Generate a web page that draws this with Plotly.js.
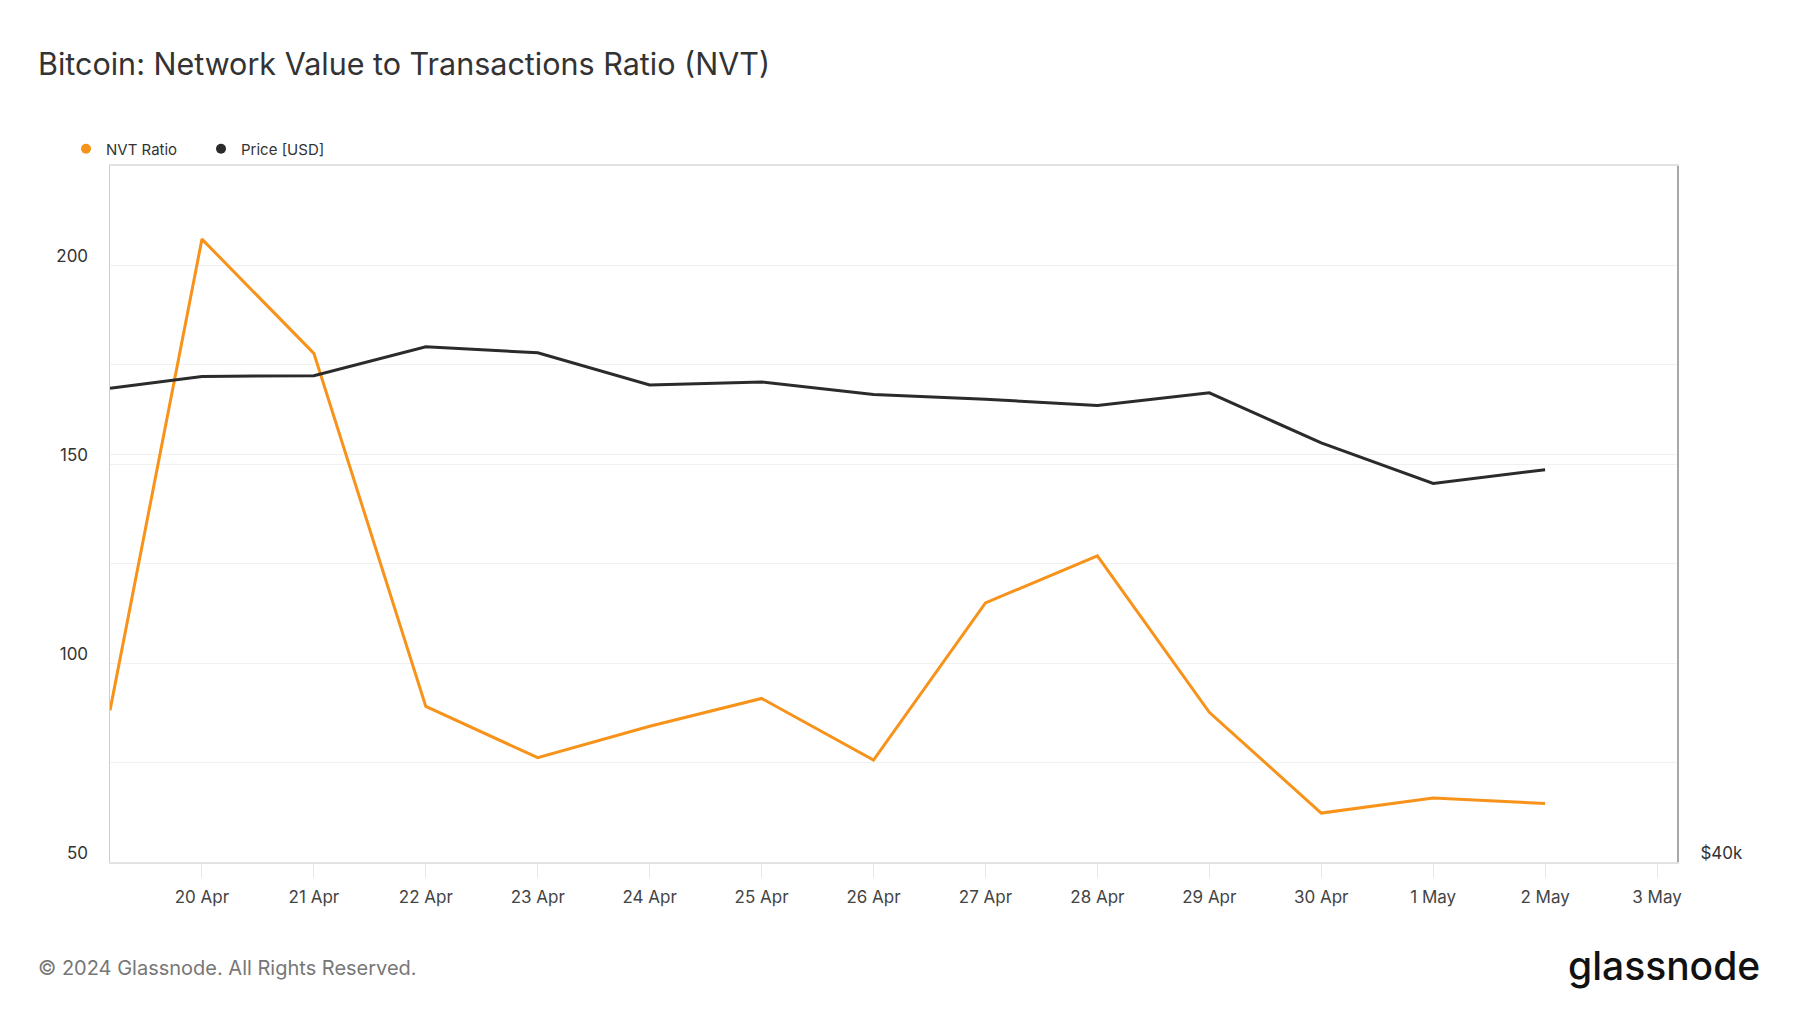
<!DOCTYPE html>
<html>
<head>
<meta charset="utf-8">
<script src="https://cdn.plot.ly/plotly-3.0.1.min.js"></script>
<style>
  html, body { margin: 0; padding: 0; background: #fff; }
  #chart { width: 1800px; height: 1013px; }
</style>
</head>
<body>
<div id="chart"></div>
<script>
// Dates (first point is where the lines enter the visible window)
const dates = [
  '2024-04-19 04:17', '2024-04-20', '2024-04-21', '2024-04-22', '2024-04-23',
  '2024-04-24', '2024-04-25', '2024-04-26', '2024-04-27', '2024-04-28',
  '2024-04-29', '2024-04-30', '2024-05-01', '2024-05-02'
];
// NVT Ratio (left axis)
const nvtRatio = [88.1, 206.5, 177.8, 89.1, 76.2, 84.1, 91.1, 75.6, 115.1, 126.9, 87.6, 62.3, 66.1, 64.7];
// Price [USD] (right axis, log scale)
const priceUsd = [64100, 64850, 64900, 66800, 66400, 64300, 64500, 63700, 63400, 63000, 63800, 60700, 58300, 59100];

const xRange = ['2024-04-19 04:17', '2024-05-03 04:17'];
const leftTickVals = [50, 75, 100, 125, 150, 175, 200, 225];
const leftTickText = ['50', '', '100', '', '150', '', '200', ''];
const rightTickVals = [40000, 60000];
const rightTickText = ['$40k', ''];

const ORANGE = '#f7931a';
const DARK = '#2b2b2b';
const FONT = 'Inter, "Noto Sans", sans-serif';

const traces = [
  {
    x: dates, y: nvtRatio, type: 'scatter', mode: 'lines',
    line: { color: ORANGE, width: 3 }, yaxis: 'y', showlegend: false,
    name: 'NVT Ratio', hoverinfo: 'skip'
  },
  {
    x: dates, y: priceUsd, type: 'scatter', mode: 'lines',
    line: { color: DARK, width: 3 }, yaxis: 'y2', showlegend: false,
    name: 'Price [USD]', hoverinfo: 'skip'
  },
  {
    x: [null], y: [null], type: 'scatter', mode: 'markers',
    marker: { color: ORANGE, size: 10 }, name: 'NVT Ratio', showlegend: true
  },
  {
    x: [null], y: [null], type: 'scatter', mode: 'markers',
    marker: { color: DARK, size: 10 }, name: 'Price [USD]', showlegend: true
  }
];

const plotW = 1800 - 110 - 123;
const plotH = 1013 - 164 - 151;

const layout = {
  width: 1800, height: 1013,
  paper_bgcolor: '#ffffff', plot_bgcolor: '#ffffff',
  margin: { l: 110, r: 123, t: 164, b: 151, pad: 0 },
  font: { family: FONT, color: '#333' },
  title: {
    text: 'Bitcoin: Network Value to Transactions Ratio (NVT)',
    font: { family: FONT, size: 30.5, color: '#333333' },
    xref: 'container', yref: 'container',
    x: 38 / 1800, xanchor: 'left',
    y: 1 - 64 / 1013, yanchor: 'middle'
  },
  showlegend: true,
  legend: {
    orientation: 'h',
    xref: 'container', yref: 'container',
    x: 66 / 1800, xanchor: 'left',
    y: 1 - 149 / 1013, yanchor: 'middle',
    font: { family: FONT, size: 15, color: '#333' },
    itemwidth: 30,
    entrywidth: 90,
    bgcolor: 'rgba(0,0,0,0)'
  },
  xaxis: {
    type: 'date',
    range: xRange,
    tick0: '2024-04-20', dtick: 86400000,
    tickformat: '%-d %b',
    showgrid: false, zeroline: false,
    showline: true, linecolor: '#e2e2e2', linewidth: 1.5, mirror: true,
    ticks: 'outside', ticklen: 14, tickcolor: '#e6e6e6', tickwidth: 1,
    tickfont: { family: FONT, size: 17, color: '#444' },
    ticklabelstandoff: 5
  },
  yaxis: {
    range: [50, 225],
    tickmode: 'array', tickvals: leftTickVals, ticktext: leftTickText,
    showgrid: true, gridcolor: '#f1f1f1', gridwidth: 1,
    zeroline: false,
    showline: true, linecolor: 'rgba(247,147,26,0.55)', linewidth: 1.5,
    ticks: '',
    tickfont: { family: FONT, size: 17, color: '#333' },
    ticklabelstandoff: 17,
    ticklabelshift: -9
  },
  yaxis2: {
    type: 'log',
    range: [Math.log10(40000), Math.log10(80000)],
    overlaying: 'y', side: 'right',
    tickmode: 'array', tickvals: rightTickVals, ticktext: rightTickText,
    showgrid: true, gridcolor: '#f1f1f1', gridwidth: 1,
    zeroline: false,
    showline: true, linecolor: '#a8a8a8', linewidth: 2,
    ticks: '',
    tickfont: { family: FONT, size: 17, color: '#333' },
    ticklabelstandoff: 18,
    ticklabelshift: -9
  },
  annotations: [
    {
      xref: 'paper', yref: 'paper',
      x: (36 - 110) / plotW, y: (862 - 968) / plotH,
      xanchor: 'left', yanchor: 'middle',
      text: '© 2024 Glassnode. All Rights Reserved.',
      showarrow: false,
      font: { family: FONT, size: 20, color: '#777777' }
    },
    {
      xref: 'paper', yref: 'paper',
      x: (1762 - 110) / plotW, y: (862 - 966) / plotH,
      xanchor: 'right', yanchor: 'middle',
      text: 'glassnode',
      showarrow: false,
      font: { family: FONT, size: 39, color: '#111111', weight: 500 }
    }
  ]
};

Plotly.newPlot('chart', traces, layout, { displayModeBar: false, staticPlot: true });
</script>
</body>
</html>
